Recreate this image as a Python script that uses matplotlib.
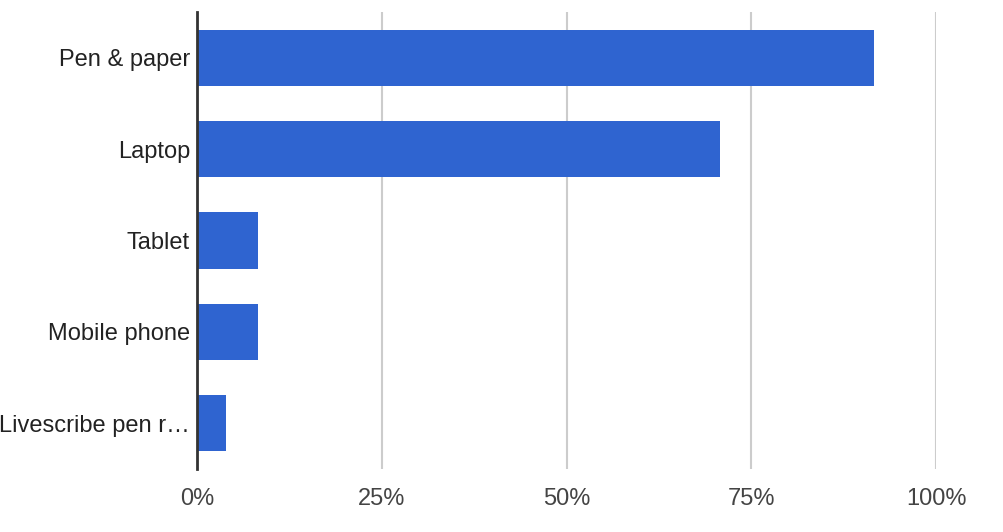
import matplotlib
matplotlib.use("Agg")
import matplotlib.pyplot as plt
from matplotlib.ticker import FuncFormatter

categories = ["Pen & paper", "Laptop", "Tablet", "Mobile phone", "Livescribe pen r…"]
values = [91.6, 70.8, 8.3, 8.3, 3.9]
xticks = [0, 25, 50, 75, 100]

plt.rcParams['font.family'] = ['Liberation Sans', 'DejaVu Sans']

fig = plt.figure(figsize=(10.04, 5.32), dpi=100)
ax = fig.add_axes([197/1004, 1 - 469/532, (936-197)/1004, (469-12)/532])

y = list(range(len(categories)))
ax.barh(y, values, height=0.613, color="#2f64d0", zorder=3)
ax.set_ylim(len(categories) - 0.5, -0.5)
ax.set_xlim(0, 100)
ax.set_xticks(xticks)
ax.xaxis.set_major_formatter(FuncFormatter(lambda v, p: f"{int(v)}%"))
ax.set_yticks(y)
ax.set_yticklabels(categories)

ax.grid(axis="x", color="#cccccc", linewidth=1.5, zorder=0)
for s in ["top", "right", "bottom"]:
    ax.spines[s].set_visible(False)
ax.spines["left"].set_color("#333333")
ax.spines["left"].set_linewidth(2)
ax.spines["left"].set_zorder(4)
ax.tick_params(axis="both", length=0)
ax.tick_params(axis="x", pad=14, labelsize=17, labelcolor="#444444")
ax.tick_params(axis="y", pad=5, labelsize=17, labelcolor="#222222")

fig.savefig("out.png", dpi=100)
